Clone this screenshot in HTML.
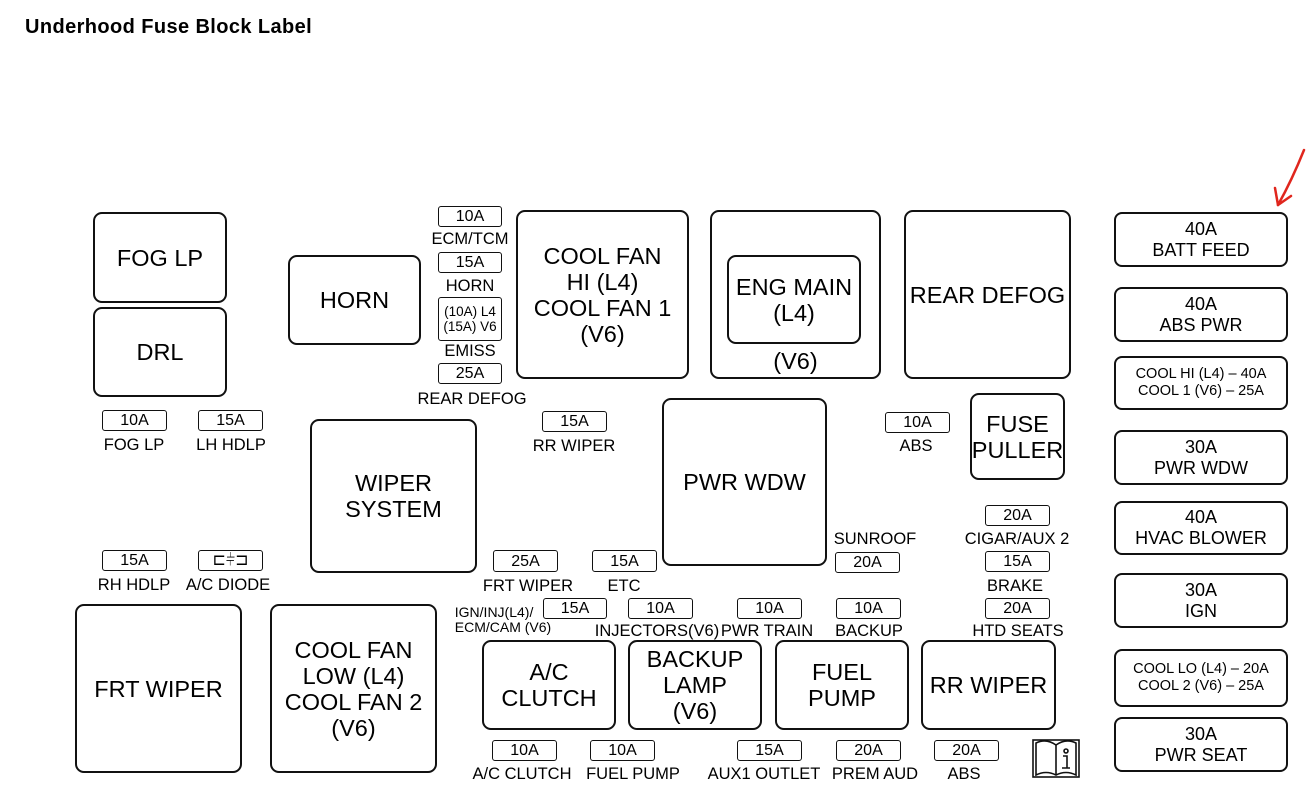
<!DOCTYPE html>
<html><head><meta charset="utf-8"><style>
body{margin:0;width:1315px;height:805px;background:#fff;position:relative;overflow:hidden;font-family:"Liberation Sans",Arial,sans-serif;color:#000}
div{position:absolute;box-sizing:border-box}
.b{border:2px solid #111;border-radius:9px;display:flex;align-items:center;justify-content:center;text-align:center;font-size:23.5px;line-height:26px}
.f{border:1.6px solid #111;border-radius:3px;display:flex;align-items:center;justify-content:center;font-size:16px;line-height:15px}
.l{font-size:16.5px;line-height:16px;white-space:nowrap;text-align:center;transform:translateX(-50%)}
.r{border:2px solid #111;border-radius:8px;display:flex;align-items:center;justify-content:center;text-align:center;font-size:18px;line-height:21px;left:1114px;width:174px}
.r.s{font-size:14.5px;line-height:17px}
</style></head><body>
<div style="left:25px;top:16px;font-size:20px;font-weight:bold;letter-spacing:0.4px">Underhood Fuse Block Label</div>

<div class="b" style="left:93px;top:212px;width:134px;height:91px">FOG LP</div>
<div class="b" style="left:93px;top:307px;width:134px;height:90px">DRL</div>
<div class="b" style="left:288px;top:255px;width:133px;height:90px">HORN</div>

<div class="f" style="left:438px;top:206px;width:64px;height:21px">10A</div>
<div class="l" style="left:470px;top:231px">ECM/TCM</div>
<div class="f" style="left:438px;top:252px;width:64px;height:21px">15A</div>
<div class="l" style="left:470px;top:278px">HORN</div>
<div class="f" style="left:438px;top:297px;width:64px;height:44px;font-size:13.5px;line-height:15px;text-align:center">(10A) L4<br>(15A) V6</div>
<div class="l" style="left:470px;top:343px">EMISS</div>
<div class="f" style="left:438px;top:363px;width:64px;height:21px">25A</div>
<div class="l" style="left:472px;top:391px">REAR DEFOG</div>

<div class="b" style="left:516px;top:210px;width:173px;height:169px">COOL FAN<br>HI (L4)<br>COOL FAN 1<br>(V6)</div>
<div class="b" style="left:710px;top:210px;width:171px;height:169px"></div>
<div class="b" style="left:727px;top:255px;width:134px;height:89px">ENG MAIN<br>(L4)</div>
<div style="left:710px;top:348px;width:171px;text-align:center;font-size:23.5px">(V6)</div>
<div class="b" style="left:904px;top:210px;width:167px;height:169px">REAR DEFOG</div>

<div class="r" style="top:212px;height:55px">40A<br>BATT FEED</div>
<div class="r" style="top:287px;height:55px">40A<br>ABS PWR</div>
<div class="r s" style="top:356px;height:54px">COOL HI (L4) – 40A<br>COOL 1 (V6) – 25A</div>
<div class="r" style="top:430px;height:55px">30A<br>PWR WDW</div>
<div class="r" style="top:501px;height:54px">40A<br>HVAC BLOWER</div>
<div class="r" style="top:573px;height:55px">30A<br>IGN</div>
<div class="r s" style="top:649px;height:58px">COOL LO (L4) – 20A<br>COOL 2 (V6) – 25A</div>
<div class="r" style="top:717px;height:55px">30A<br>PWR SEAT</div>

<svg style="position:absolute;left:0;top:0" width="1315" height="805"><g stroke="#e0261d" stroke-width="2.5" fill="none" stroke-linecap="round"><path d="M1304 150 Q1292 180 1278 205"/><path d="M1278 205 L1275 188 M1278 205 L1291 196"/></g>
<g stroke="#111" stroke-width="1.6" fill="none"><rect x="1033" y="740" width="46" height="37"/><path d="M1036 743 Q1046 738 1056 745 Q1066 738 1076 743 V775 Q1066 770 1056 775 Q1046 770 1036 775Z"/><path d="M1056 745 V775"/><circle cx="1066" cy="751" r="2"/><path d="M1063 756 h4 v12 M1062 768 h8"/></g></svg>

<div class="f" style="left:102px;top:410px;width:65px;height:21px">10A</div>
<div class="l" style="left:134px;top:437px">FOG LP</div>
<div class="f" style="left:198px;top:410px;width:65px;height:21px">15A</div>
<div class="l" style="left:231px;top:437px">LH HDLP</div>

<div class="b" style="left:310px;top:419px;width:167px;height:154px">WIPER<br>SYSTEM</div>
<div class="f" style="left:542px;top:411px;width:65px;height:21px">15A</div>
<div class="l" style="left:574px;top:438px">RR WIPER</div>
<div class="b" style="left:662px;top:398px;width:165px;height:168px">PWR WDW</div>
<div class="f" style="left:885px;top:412px;width:65px;height:21px">10A</div>
<div class="l" style="left:916px;top:438px">ABS</div>
<div class="b" style="left:970px;top:393px;width:95px;height:87px">FUSE<br>PULLER</div>

<div class="f" style="left:985px;top:505px;width:65px;height:21px">20A</div>
<div class="l" style="left:1017px;top:531px">CIGAR/AUX 2</div>
<div class="f" style="left:985px;top:551px;width:65px;height:21px">15A</div>
<div class="l" style="left:1015px;top:578px">BRAKE</div>
<div class="f" style="left:985px;top:598px;width:65px;height:21px">20A</div>
<div class="l" style="left:1018px;top:623px">HTD SEATS</div>
<div class="l" style="left:875px;top:531px">SUNROOF</div>
<div class="f" style="left:835px;top:552px;width:65px;height:21px">20A</div>

<div class="f" style="left:102px;top:550px;width:65px;height:21px">15A</div>
<div class="l" style="left:134px;top:577px">RH HDLP</div>
<div class="f" style="left:198px;top:550px;width:65px;height:21px">⊏⫩⊐</div>
<div class="l" style="left:228px;top:577px">A/C DIODE</div>
<div class="f" style="left:493px;top:550px;width:65px;height:22px">25A</div>
<div class="l" style="left:528px;top:578px">FRT WIPER</div>
<div class="f" style="left:592px;top:550px;width:65px;height:22px">15A</div>
<div class="l" style="left:624px;top:578px">ETC</div>

<div class="b" style="left:75px;top:604px;width:167px;height:169px">FRT WIPER</div>
<div class="b" style="left:270px;top:604px;width:167px;height:169px">COOL FAN<br>LOW (L4)<br>COOL FAN 2<br>(V6)</div>

<div class="l" style="left:503px;top:605px;font-size:14px;line-height:15px;text-align:left">IGN/INJ(L4)/<br>ECM/CAM (V6)</div>
<div class="f" style="left:543px;top:598px;width:64px;height:21px">15A</div>
<div class="f" style="left:628px;top:598px;width:65px;height:21px">10A</div>
<div class="f" style="left:737px;top:598px;width:65px;height:21px">10A</div>
<div class="f" style="left:836px;top:598px;width:65px;height:21px">10A</div>
<div class="l" style="left:657px;top:623px">INJECTORS(V6)</div>
<div class="l" style="left:767px;top:623px">PWR TRAIN</div>
<div class="l" style="left:869px;top:623px">BACKUP</div>

<div class="b" style="left:482px;top:640px;width:134px;height:90px">A/C<br>CLUTCH</div>
<div class="b" style="left:628px;top:640px;width:134px;height:90px">BACKUP<br>LAMP<br>(V6)</div>
<div class="b" style="left:775px;top:640px;width:134px;height:90px">FUEL<br>PUMP</div>
<div class="b" style="left:921px;top:640px;width:135px;height:90px">RR WIPER</div>

<div class="f" style="left:492px;top:740px;width:65px;height:21px">10A</div>
<div class="f" style="left:590px;top:740px;width:65px;height:21px">10A</div>
<div class="f" style="left:737px;top:740px;width:65px;height:21px">15A</div>
<div class="f" style="left:836px;top:740px;width:65px;height:21px">20A</div>
<div class="f" style="left:934px;top:740px;width:65px;height:21px">20A</div>
<div class="l" style="left:522px;top:766px">A/C CLUTCH</div>
<div class="l" style="left:633px;top:766px">FUEL PUMP</div>
<div class="l" style="left:764px;top:766px">AUX1 OUTLET</div>
<div class="l" style="left:875px;top:766px">PREM AUD</div>
<div class="l" style="left:964px;top:766px">ABS</div>
</body></html>
